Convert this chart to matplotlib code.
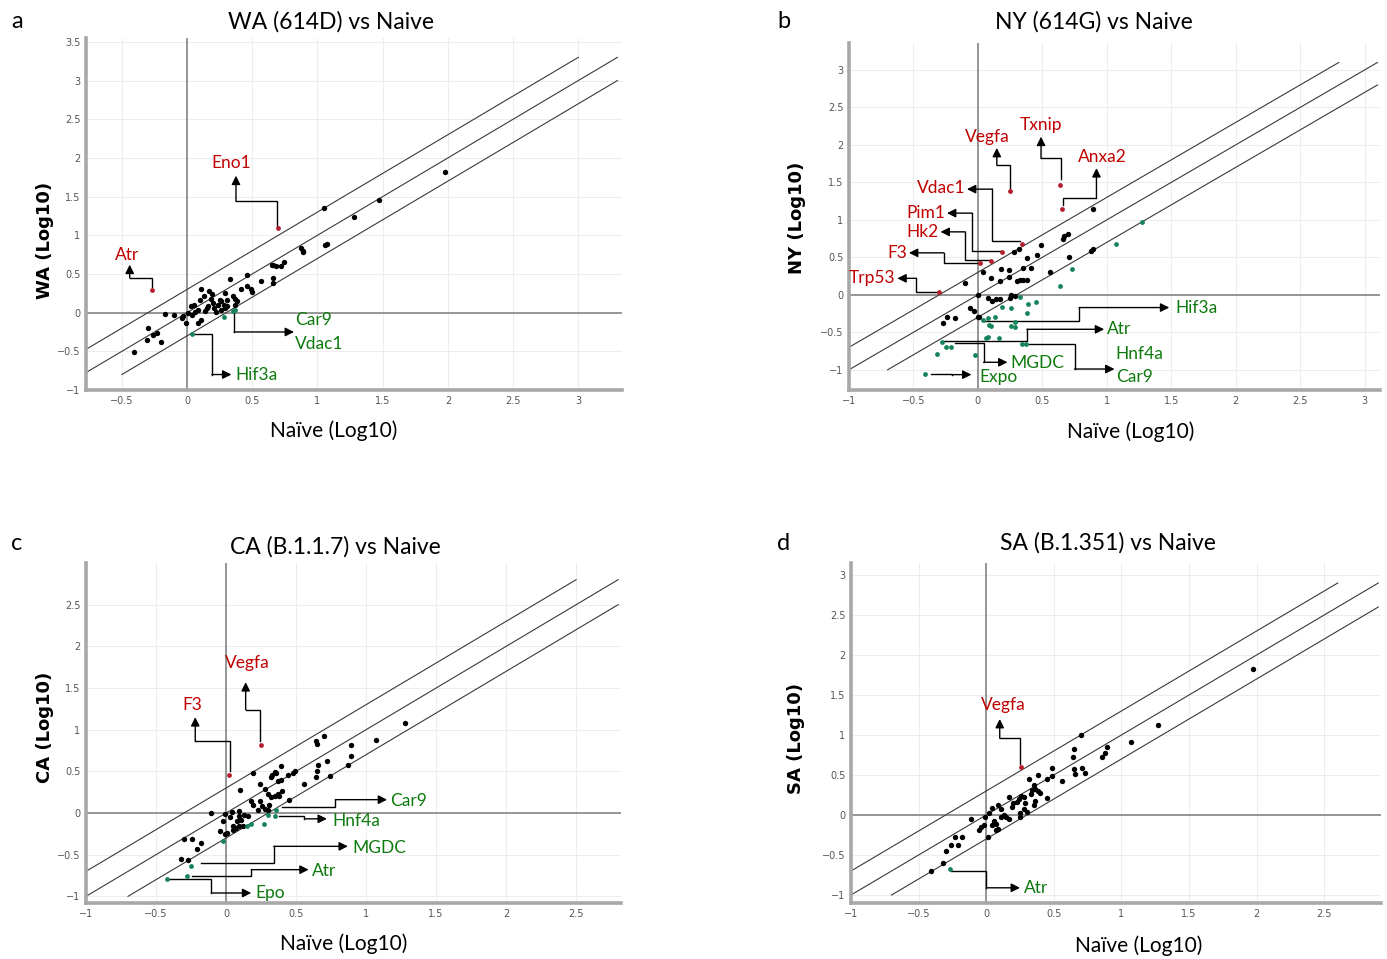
"""
Fold-change scatter panels: variant vs naive (log10).
"""
import matplotlib
matplotlib.use('Agg')
import matplotlib.pyplot as plt

# ---- data -----------------------------------------------------------------
# WA (614D) vs Naive
wa_x = [-0.41, -0.31, -0.30, -0.26, -0.23, -0.20, -0.17, -0.10, -0.04, -0.03,
        -0.01, 0.01, 0.03, 0.05, 0.06, 0.08, 0.08, 0.11, 0.11, 0.10, 0.13, 0.15,
        0.16, 0.17, 0.18, 0.19, 0.21, 0.22, 0.24, 0.25, 0.26, 0.26, 0.28, 0.29,
        0.31, 0.31, 0.29, 0.33, 0.35, 0.37, 0.38, 0.37, 0.41, 0.46, 0.46, 0.49,
        0.50, 0.57, 0.65, 0.66, 0.68, 0.74, 0.72, 0.66, 0.66, 0.87, 0.89, 0.89,
        1.06, 1.07, 0.04, 0.14, 0.20, 1.05, 1.28, 1.47, 1.98]
wa_y = [-0.51, -0.35, -0.20, -0.29, -0.26, -0.38, -0.02, -0.03, -0.07, -0.04,
        -0.13, -0.01, 0.08, 0.10, 0.01, 0.04, -0.13, -0.09, 0.31, 0.16, 0.21, 0.06,
        0.08, 0.28, 0.18, 0.24, 0.06, 0.01, 0.10, 0.16, 0.15, 0.04, 0.10, 0.06,
        0.16, 0.09, 0.26, 0.44, 0.22, 0.18, 0.15, 0.10, 0.31, 0.49, 0.34, 0.30,
        0.27, 0.41, 0.61, 0.62, 0.60, 0.66, 0.60, 0.45, 0.38, 0.84, 0.78, 0.80,
        0.87, 0.89, -0.03, 0.02, 0.12, 1.35, 1.23, 1.45, 1.82]
wa_up_x = [0.70, -0.27]
wa_up_y = [1.10, 0.29]
wa_down_x = [0.04, 0.28, 0.35, 0.37]
wa_down_y = [-0.28, -0.06, 0.02, 0.03]

# NY (614G) vs Naive
ny_x = [0.89, 0.66, 0.67, 0.70, 0.88, 0.89, 0.71, 0.56, 0.49, 0.32, 0.28, 0.38,
        0.46, 0.41, 0.35, 0.24, 0.18, 0.04, 0.10, 0.17, 0.24, 0.30, 0.33, 0.35,
        0.38, -0.10, 0.00, 0.08, 0.11, 0.14, 0.17, 0.25, 0.26, 0.29, -0.06, -0.03,
        0.00, 0.01, -0.27, -0.24, -0.18]
ny_y = [1.14, 0.75, 0.79, 0.81, 0.59, 0.61, 0.51, 0.30, 0.66, 0.61, 0.57, 0.49,
        0.53, 0.36, 0.36, 0.33, 0.35, 0.30, 0.23, 0.19, 0.24, 0.18, 0.20, 0.20,
        0.20, 0.16, 0.00, -0.04, -0.08, -0.06, -0.06, -0.04, 0.00, -0.01, -0.18,
        -0.22, -0.29, -0.29, -0.37, -0.30, -0.31]
ny_up_x = [0.25, 0.64, 0.65, 0.34, 0.19, 0.10, 0.02, -0.30]
ny_up_y = [1.38, 1.47, 1.15, 0.68, 0.57, 0.45, 0.42, 0.04]
ny_down_x = [1.27, 1.07, 0.73, 0.64, 0.33, 0.39, 0.45, 0.19, 0.26, 0.38, 0.04,
             0.08, 0.13, 0.09, 0.10, 0.26, 0.29, 0.29, 0.06, 0.08, 0.16, -0.28,
             -0.25, -0.21, -0.32, -0.02, 0.34, 0.37, -0.41]
ny_down_y = [0.97, 0.68, 0.35, 0.12, -0.03, -0.12, -0.10, -0.16, -0.17, -0.24,
             -0.34, -0.31, -0.29, -0.40, -0.42, -0.41, -0.43, -0.36, -0.57, -0.56,
             -0.57, -0.63, -0.70, -0.69, -0.79, -0.80, -0.65, -0.66, -1.05]

# CA (B.1.1.7) vs Naive
ca_x = [1.28, 1.07, 0.89, 0.89, 0.87, 0.74, 0.70, 0.64, 0.65, 0.72, 0.66, 0.65,
        0.64, 0.56, 0.49, 0.48, 0.44, 0.39, 0.35, 0.36, 0.33, 0.39, 0.37, 0.32,
        0.19, 0.10, 0.24, 0.28, 0.32, 0.35, 0.38, 0.40, 0.37, 0.45, 0.30, 0.18,
        0.19, 0.24, 0.26, 0.28, 0.30, 0.31, 0.23, -0.11, -0.01, 0.04, 0.09, 0.03,
        0.09, 0.13, 0.16, 0.08, 0.11, -0.02, 0.05, 0.07, 0.09, 0.12, 0.05, -0.04,
        -0.01, 0.01, -0.30, -0.24, -0.18, -0.21, -0.32, -0.27]
ca_y = [1.08, 0.88, 0.82, 0.69, 0.58, 0.44, 0.93, 0.86, 0.83, 0.63, 0.58, 0.50,
        0.43, 0.35, 0.51, 0.48, 0.46, 0.57, 0.49, 0.48, 0.46, 0.40, 0.38, 0.43,
        0.48, 0.28, 0.35, 0.29, 0.19, 0.20, 0.20, 0.26, 0.23, 0.16, 0.23, 0.14,
        0.10, 0.14, 0.08, 0.05, 0.04, 0.10, 0.04, 0.00, -0.01, 0.01, 0.03, -0.05,
        -0.04, -0.02, -0.04, -0.09, -0.08, -0.10, -0.16, -0.18, -0.16, -0.16, -0.20,
        -0.21, -0.25, -0.24, -0.31, -0.31, -0.36, -0.43, -0.55, -0.56]
ca_up_x = [0.02, 0.25]
ca_up_y = [0.46, 0.82]
ca_down_x = [0.36, 0.35, 0.30, 0.27, 0.18, 0.15, -0.02, -0.25, -0.28, -0.42]
ca_down_y = [0.04, -0.04, -0.02, -0.13, -0.13, -0.16, -0.33, -0.64, -0.75, -0.79]

# SA (B.1.351) vs Naive
sa_x = [0.70, 1.07, 0.89, 0.88, 0.86, 0.65, 0.64, 0.65, 0.66, 0.71, 0.73, 0.56,
        0.49, 0.49, 0.45, 0.38, 0.32, 0.35, 0.36, 0.38, 0.40, 0.34, 0.33, 0.45,
        0.36, 0.35, 0.29, 0.28, 0.30, 0.25, 0.25, 0.17, 0.19, 0.20, 0.23, 0.24,
        0.26, 0.28, 0.09, 0.04, 0.02, -0.01, 0.11, 0.13, 0.15, 0.17, 0.06, 0.07,
        0.09, 0.07, 0.04, 0.11, -0.04, -0.05, -0.02, 0.01, -0.11, -0.23, -0.18,
        -0.26, -0.21, -0.30, -0.32, -0.41, 1.27, 1.97]
sa_y = [1.00, 0.91, 0.85, 0.78, 0.73, 0.82, 0.72, 0.58, 0.51, 0.59, 0.52, 0.43,
        0.59, 0.49, 0.45, 0.50, 0.45, 0.38, 0.33, 0.30, 0.27, 0.31, 0.26, 0.21,
        0.17, 0.13, 0.15, 0.08, 0.04, -0.02, 0.02, 0.22, 0.10, 0.15, 0.16, 0.20,
        0.24, 0.22, 0.12, 0.09, 0.03, -0.02, 0.07, 0.00, -0.03, -0.05, -0.08, -0.11,
        -0.18, -0.19, -0.13, -0.02, -0.15, -0.19, -0.13, -0.28, -0.05, -0.28, -0.28,
        -0.37, -0.37, -0.45, -0.60, -0.70, 1.12, 1.82]
sa_up_x = [0.26]
sa_up_y = [0.60]
sa_down_x = [-0.27]
sa_down_y = [-0.67]

fold_offset = 0.3  # 2-fold lines

# ---- styling ---------------------------------------------------------------
RED_TXT = '#c00000'
GREEN_TXT = '#0d7a0d'
RED_PT = '#b3202c'
GREEN_PT = '#16845a'
LABEL_FONT = 'Lato'

W, H = 1387, 959
fig = plt.figure(figsize=(W / 100, H / 100), dpi=100)


def px_axes(left, top, right, bottom):
    return fig.add_axes([left / W, 1 - bottom / H, (right - left) / W, (bottom - top) / H])


def style_axes(ax, xlim, ylim, xticks, yticks, box):
    ax.set_xlim(*xlim)
    ax.set_ylim(*ylim)
    ax.set_xticks(xticks)
    ax.set_yticks(yticks)
    ax.set_xticklabels([('%g' % t).replace('-', '\u2212') for t in xticks])
    ax.set_yticklabels([('%g' % t).replace('-', '\u2212') for t in yticks])
    ax.tick_params(length=0, labelsize=7, labelcolor='#555555', pad=4)
    for lab in ax.get_xticklabels() + ax.get_yticklabels():
        lab.set_fontfamily('DejaVu Sans')
    ax.grid(True, color='#ededed', lw=0.8)
    ax.set_axisbelow(True)
    for s in ['top', 'right']:
        ax.spines[s].set_visible(False)
    for s in ['left', 'bottom']:
        ax.spines[s].set_color('#a8a8a8')
        ax.spines[s].set_linewidth(2.6)
    ax.axhline(0, color='#858585', lw=1.2, zorder=1)
    ax.axvline(0, color='#858585', lw=1.2, zorder=1)
    lo, hi = box
    for off in (fold_offset, 0, -fold_offset):
        x0 = max(lo, lo - off)
        x1 = min(hi, hi - off)
        ax.plot([x0, x1], [x0 + off, x1 + off], color='#3a3a3a', lw=0.8, zorder=2)


def draw_points(ax, x, y, ux, uy, dx, dy):
    ax.scatter(x, y, s=15, color='black', zorder=4, linewidths=0)
    ax.scatter(ux, uy, s=12, color=RED_PT, zorder=4, linewidths=0)
    ax.scatter(dx, dy, s=12, color=GREEN_PT, zorder=4, linewidths=0)


def elbow(ax, path):
    xs = [p[0] for p in path]
    ys = [p[1] for p in path]
    ax.plot(xs[:-1], ys[:-1], color='black', lw=1.0, zorder=3, solid_joinstyle='miter')
    ax.annotate('', xy=path[-1], xytext=path[-2],
                arrowprops=dict(arrowstyle='-|>', color='black', lw=1.0,
                                mutation_scale=13, shrinkA=0, shrinkB=0),
                zorder=3)


def label(ax, x, y, text, color, ha='center'):
    ax.text(x, y, text, color=color, ha=ha, va='center', fontsize=12.5,
            family=LABEL_FONT)


def titles(ax, letter, title, ylabel, letter_px, title_px, xlab_px, ylab_px):
    fig.text(letter_px[0] / W, 1 - letter_px[1] / H, letter, fontsize=17,
             family=LABEL_FONT, ha='center', va='center')
    fig.text(title_px[0] / W, 1 - title_px[1] / H, title, fontsize=16.5,
             family=LABEL_FONT, ha='center', va='center')
    fig.text(xlab_px[0] / W, 1 - xlab_px[1] / H, 'Na\u00efve (Log10)', fontsize=15,
             family=LABEL_FONT, ha='center', va='center')
    fig.text(ylab_px[0] / W, 1 - ylab_px[1] / H, ylabel, fontsize=13,
             family='DejaVu Sans', fontweight='bold', ha='center', va='center',
             rotation=90)


# ---- panel a ---------------------------------------------------------------
ax = px_axes(86, 38, 622, 390)
style_axes(ax, (-0.775, 3.335), (-1.0, 3.55), [-0.5, 0, 0.5, 1, 1.5, 2, 2.5, 3],
           [-1, -0.5, 0, 0.5, 1, 1.5, 2, 2.5, 3, 3.5], (-0.8, 3.3))
draw_points(ax, wa_x, wa_y, wa_up_x, wa_up_y, wa_down_x, wa_down_y)
elbow(ax, [(0.69, 1.12), (0.69, 1.44), (0.375, 1.44), (0.375, 1.77)])
label(ax, 0.34, 1.94, 'Eno1', RED_TXT)
elbow(ax, [(-0.27, 0.33), (-0.27, 0.45), (-0.44, 0.45), (-0.44, 0.62)])
label(ax, -0.46, 0.75, 'Atr', RED_TXT)
elbow(ax, [(0.36, -0.01), (0.36, -0.25), (0.82, -0.25)])
label(ax, 0.83, -0.09, 'Car9', GREEN_TXT, ha='left')
label(ax, 0.83, -0.40, 'Vdac1', GREEN_TXT, ha='left')
elbow(ax, [(0.05, -0.28), (0.19, -0.28), (0.19, -0.80), (0.34, -0.80)])
label(ax, 0.37, -0.80, 'Hif3a', GREEN_TXT, ha='left')
titles(ax, 'a', 'WA (614D) vs Naive', 'WA (Log10)', (17, 22), (331, 22), (334, 431), (45, 240))

# ---- panel b ---------------------------------------------------------------
ax = px_axes(849, 43, 1380, 390)
style_axes(ax, (-0.98, 3.12), (-1.27, 3.36), [-1, -0.5, 0, 0.5, 1, 1.5, 2, 2.5, 3],
           [-1, -0.5, 0, 0.5, 1, 1.5, 2, 2.5, 3], (-1.0, 3.1))
draw_points(ax, ny_x, ny_y, ny_up_x, ny_up_y, ny_down_x, ny_down_y)
elbow(ax, [(0.25, 1.42), (0.25, 1.73), (0.147, 1.73), (0.147, 1.96)])
label(ax, 0.07, 2.11, 'Vegfa', RED_TXT)
elbow(ax, [(0.645, 1.55), (0.645, 1.82), (0.49, 1.82), (0.49, 2.11)])
label(ax, 0.49, 2.27, 'Txnip', RED_TXT)
elbow(ax, [(0.66, 1.20), (0.66, 1.29), (0.92, 1.29), (0.92, 1.69)])
label(ax, 0.965, 1.84, 'Anxa2', RED_TXT)
elbow(ax, [(0.33, 0.72), (0.113, 0.72), (0.113, 1.41), (-0.085, 1.41)])
label(ax, -0.10, 1.43, 'Vdac1', RED_TXT, ha='right')
elbow(ax, [(0.18, 0.59), (-0.046, 0.59), (-0.046, 1.09), (-0.24, 1.09)])
label(ax, -0.255, 1.09, 'Pim1', RED_TXT, ha='right')
elbow(ax, [(0.095, 0.47), (-0.098, 0.47), (-0.098, 0.84), (-0.29, 0.84)])
label(ax, -0.305, 0.84, 'Hk2', RED_TXT, ha='right')
elbow(ax, [(0.01, 0.42), (-0.265, 0.42), (-0.265, 0.56), (-0.535, 0.56)])
label(ax, -0.55, 0.56, 'F3', RED_TXT, ha='right')
elbow(ax, [(-0.31, 0.04), (-0.48, 0.04), (-0.48, 0.22), (-0.625, 0.22)])
label(ax, -0.64, 0.22, 'Trp53', RED_TXT, ha='right')
elbow(ax, [(0.05, -0.355), (0.785, -0.355), (0.785, -0.17), (1.485, -0.17)])
label(ax, 1.53, -0.17, 'Hif3a', GREEN_TXT, ha='left')
elbow(ax, [(-0.26, -0.61), (0.38, -0.61), (0.38, -0.46), (0.98, -0.46)])
label(ax, 1.0, -0.45, 'Atr', GREEN_TXT, ha='left')
elbow(ax, [(-0.175, -0.64), (0.044, -0.64), (0.044, -0.90), (0.23, -0.90)])
label(ax, 0.25, -0.91, 'MGDC', GREEN_TXT, ha='left')
elbow(ax, [(0.40, -0.65), (0.75, -0.65), (0.75, -0.99), (1.06, -0.99)])
label(ax, 1.07, -0.79, 'Hnf4a', GREEN_TXT, ha='left')
label(ax, 1.07, -1.09, 'Car9', GREEN_TXT, ha='left')
elbow(ax, [(-0.36, -1.05), (-0.2, -1.05), (-0.2, -1.065), (-0.05, -1.065)])
label(ax, 0.01, -1.09, 'Expo', GREEN_TXT, ha='left')
titles(ax, 'b', 'NY (614G) vs Naive', 'NY (Log10)', (784, 22), (1094, 22), (1131, 432), (797, 218))

# ---- panel c ---------------------------------------------------------------
ax = px_axes(86, 563, 621, 903)
style_axes(ax, (-0.99, 2.82), (-1.08, 3.0), [-1, -0.5, 0, 0.5, 1, 1.5, 2, 2.5],
           [-1, -0.5, 0, 0.5, 1, 1.5, 2, 2.5], (-1.0, 2.8))
draw_points(ax, ca_x, ca_y, ca_up_x, ca_up_y, ca_down_x, ca_down_y)
elbow(ax, [(0.03, 0.50), (0.03, 0.86), (-0.22, 0.86), (-0.22, 1.15)])
label(ax, -0.24, 1.30, 'F3', RED_TXT)
elbow(ax, [(0.245, 0.86), (0.245, 1.24), (0.14, 1.24), (0.14, 1.57)])
label(ax, 0.15, 1.80, 'Vegfa', RED_TXT)
elbow(ax, [(0.40, 0.07), (0.78, 0.07), (0.78, 0.16), (1.15, 0.16)])
label(ax, 1.17, 0.15, 'Car9', GREEN_TXT, ha='left')
elbow(ax, [(0.38, -0.04), (0.56, -0.04), (0.56, -0.07), (0.72, -0.07)])
label(ax, 0.76, -0.09, 'Hnf4a', GREEN_TXT, ha='left')
elbow(ax, [(-0.18, -0.60), (0.34, -0.60), (0.34, -0.40), (0.87, -0.40)])
label(ax, 0.90, -0.42, 'MGDC', GREEN_TXT, ha='left')
elbow(ax, [(-0.24, -0.75), (0.18, -0.75), (0.18, -0.68), (0.59, -0.68)])
label(ax, 0.61, -0.69, 'Atr', GREEN_TXT, ha='left')
elbow(ax, [(-0.41, -0.79), (-0.105, -0.79), (-0.105, -0.96), (0.18, -0.96)])
label(ax, 0.21, -0.96, 'Epo', GREEN_TXT, ha='left')
titles(ax, 'c', 'CA (B.1.1.7) vs Naive', 'CA (Log10)', (17, 543), (335, 547), (344, 944), (45, 727))

# ---- panel d ---------------------------------------------------------------
ax = px_axes(851, 563, 1381, 903)
style_axes(ax, (-0.99, 2.92), (-1.1, 3.15), [-1, -0.5, 0, 0.5, 1, 1.5, 2, 2.5],
           [-1, -0.5, 0, 0.5, 1, 1.5, 2, 2.5, 3], (-1.0, 2.9))
draw_points(ax, sa_x, sa_y, sa_up_x, sa_up_y, sa_down_x, sa_down_y)
elbow(ax, [(0.25, 0.64), (0.25, 0.96), (0.10, 0.96), (0.10, 1.20)])
label(ax, 0.125, 1.37, 'Vegfa', RED_TXT)
elbow(ax, [(-0.26, -0.70), (0.0, -0.70), (0.0, -0.91), (0.25, -0.91)])
label(ax, 0.28, -0.91, 'Atr', GREEN_TXT, ha='left')
titles(ax, 'd', 'SA (B.1.351) vs Naive', 'SA (Log10)', (784, 543), (1108, 543), (1139, 946), (796, 738))

fig.savefig('out.png', dpi=100)
